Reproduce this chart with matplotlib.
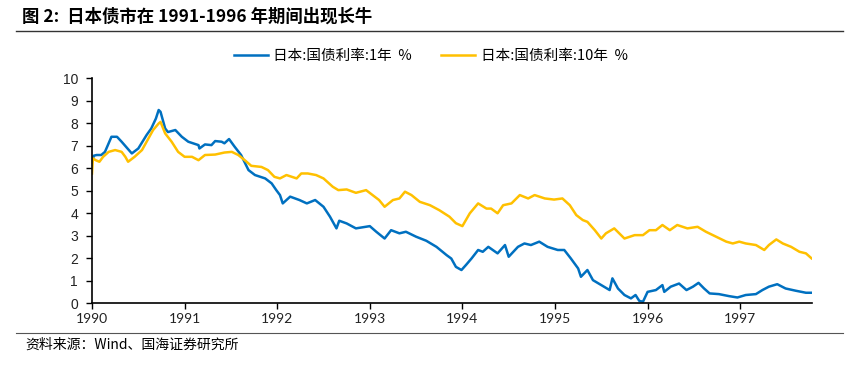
import matplotlib.pyplot as plt
from matplotlib.lines import Line2D

plt.rcParams['font.family'] = ['Noto Sans CJK SC', 'DejaVu Sans']

# 日本:国债利率:1年 (decimal year, %)
one_year_t = [1990.00, 1990.02, 1990.05, 1990.10, 1990.14, 1990.21, 1990.27, 1990.32, 1990.43, 1990.50,
              1990.59, 1990.64, 1990.69, 1990.72, 1990.74, 1990.79, 1990.82, 1990.90, 1990.97, 1991.04,
              1991.15, 1991.16, 1991.22, 1991.29, 1991.33, 1991.40, 1991.43, 1991.48, 1991.54, 1991.61,
              1991.69, 1991.76, 1991.87, 1991.94, 1991.99, 1992.03, 1992.06, 1992.14, 1992.24, 1992.32,
              1992.41, 1992.50, 1992.57, 1992.64, 1992.67, 1992.75, 1992.85, 1993.00, 1993.07, 1993.16,
              1993.23, 1993.32, 1993.39, 1993.50, 1993.61, 1993.72, 1993.83, 1993.88, 1993.93, 1993.99,
              1994.04, 1994.10, 1994.17, 1994.22, 1994.28, 1994.38, 1994.46, 1994.50, 1994.60, 1994.67,
              1994.74, 1994.83, 1994.92, 1995.03, 1995.10, 1995.17, 1995.25, 1995.28, 1995.35, 1995.41,
              1995.50, 1995.59, 1995.62, 1995.68, 1995.75, 1995.82, 1995.87, 1995.91, 1995.95, 1996.00,
              1996.09, 1996.16, 1996.18, 1996.25, 1996.34, 1996.42, 1996.49, 1996.55, 1996.61, 1996.67,
              1996.77, 1996.88, 1996.97, 1997.06, 1997.17, 1997.24, 1997.31, 1997.40, 1997.49, 1997.60,
              1997.71, 1997.77]
one_year = [6.28, 6.55, 6.58, 6.58, 6.72, 7.39, 7.39, 7.17, 6.65, 6.87,
            7.47, 7.76, 8.20, 8.58, 8.50, 7.76, 7.60, 7.69, 7.39, 7.17,
            7.02, 6.87, 7.05, 7.02, 7.20, 7.17, 7.10, 7.29, 6.95, 6.58,
            5.91, 5.69, 5.54, 5.32, 5.02, 4.80, 4.43, 4.73, 4.58, 4.43,
            4.58, 4.28, 3.84, 3.32, 3.66, 3.54, 3.32, 3.42, 3.17, 2.87,
            3.24, 3.10, 3.17, 2.95, 2.77, 2.50, 2.13, 1.98, 1.61, 1.47,
            1.70, 1.99, 2.36, 2.28, 2.50, 2.21, 2.58, 2.06, 2.50, 2.65,
            2.58, 2.73, 2.50, 2.36, 2.36, 1.99, 1.54, 1.17, 1.47, 1.02,
            0.80, 0.58, 1.10, 0.65, 0.36, 0.21, 0.36, 0.10, 0.06, 0.50,
            0.58, 0.80, 0.50, 0.73, 0.87, 0.58, 0.73, 0.90, 0.65, 0.43,
            0.40, 0.31, 0.25, 0.36, 0.40, 0.58, 0.73, 0.84, 0.65, 0.55,
            0.46, 0.46]

# 日本:国债利率:10年 (decimal year, %)
ten_year_t = [1990.00, 1990.01, 1990.04, 1990.08, 1990.12, 1990.18, 1990.25, 1990.32, 1990.36, 1990.39,
              1990.46, 1990.54, 1990.61, 1990.66, 1990.72, 1990.74, 1990.79, 1990.86, 1990.93, 1991.00,
              1991.08, 1991.15, 1991.22, 1991.33, 1991.43, 1991.51, 1991.58, 1991.65, 1991.72, 1991.83,
              1991.90, 1991.97, 1992.03, 1992.10, 1992.21, 1992.26, 1992.33, 1992.42, 1992.50, 1992.60,
              1992.66, 1992.75, 1992.85, 1992.96, 1993.03, 1993.10, 1993.16, 1993.25, 1993.32, 1993.38,
              1993.45, 1993.54, 1993.65, 1993.75, 1993.86, 1993.93, 1994.00, 1994.08, 1994.17, 1994.26,
              1994.31, 1994.38, 1994.44, 1994.53, 1994.62, 1994.71, 1994.78, 1994.89, 1994.99, 1995.08,
              1995.16, 1995.23, 1995.30, 1995.35, 1995.43, 1995.50, 1995.55, 1995.64, 1995.75, 1995.86,
              1995.95, 1996.02, 1996.09, 1996.16, 1996.24, 1996.32, 1996.43, 1996.54, 1996.63, 1996.74,
              1996.85, 1996.92, 1996.99, 1997.06, 1997.17, 1997.26, 1997.31, 1997.39, 1997.46, 1997.55,
              1997.64, 1997.71, 1997.77]
ten_year = [5.76, 6.43, 6.35, 6.28, 6.50, 6.72, 6.80, 6.72, 6.50, 6.28,
            6.50, 6.80, 7.32, 7.69, 7.98, 8.05, 7.54, 7.17, 6.72, 6.50,
            6.50, 6.35, 6.58, 6.60, 6.69, 6.72, 6.58, 6.35, 6.10, 6.05,
            5.91, 5.61, 5.54, 5.69, 5.54, 5.76, 5.76, 5.69, 5.54, 5.17,
            5.02, 5.05, 4.90, 5.02, 4.80, 4.58, 4.28, 4.58, 4.65, 4.95,
            4.80, 4.50, 4.35, 4.13, 3.84, 3.55, 3.42, 3.99, 4.43, 4.20,
            4.20, 3.99, 4.35, 4.43, 4.80, 4.65, 4.80, 4.65, 4.60, 4.65,
            4.35, 3.91, 3.69, 3.61, 3.24, 2.87, 3.10, 3.32, 2.87, 3.02,
            3.02, 3.24, 3.24, 3.47, 3.24, 3.47, 3.32, 3.39, 3.17, 2.95,
            2.73, 2.65, 2.73, 2.65, 2.58, 2.36, 2.58, 2.83, 2.65, 2.50,
            2.28, 2.21, 1.99]

years = [1990, 1991, 1992, 1993, 1994, 1995, 1996, 1997]

fig = plt.figure(figsize=(8.55, 3.77), dpi=100)
ax = fig.add_axes([0.1076, 0.196, 0.8426, 0.597])

ax.plot(one_year_t, one_year, color='#0070C0', lw=1.8, label='日本:国债利率:1年  %')
ax.plot(ten_year_t, ten_year, color='#FFC000', lw=1.8, label='日本:国债利率:10年  %')

ax.set_xlim(1990, 1997.78)
ax.set_ylim(0, 10)
ax.set_yticks(range(0, 11))
ax.set_xticks(years)
ax.set_xticklabels([str(y) for y in years], family='Lato', fontsize=10)
for lab in ax.get_yticklabels():
    lab.set_family('Liberation Sans')
    lab.set_fontsize(10)
ax.spines['top'].set_visible(False)
ax.spines['right'].set_visible(False)
ax.spines['left'].set_linewidth(1.2)
ax.spines['bottom'].set_linewidth(1.2)
ax.tick_params(axis='both', length=4, width=1, colors='black', labelcolor='#222222')
ax.tick_params(axis='x', pad=3)
ax.tick_params(axis='y', pad=6)

fig.legend(loc='center', bbox_to_anchor=(0.504, 0.851), ncol=2, frameon=False,
           fontsize=10.5, handlelength=2.3, columnspacing=2.0, handletextpad=0.4)

# title and source
fig.text(0.026, 0.955, '图 2:  日本债市在 1991-1996 年期间出现长牛', fontsize=12.5,
         fontweight='bold', va='center', ha='left')
fig.add_artist(Line2D([0.019, 0.986], [0.918, 0.918], color='#333333', lw=1))
fig.add_artist(Line2D([0.019, 0.986], [0.117, 0.117], color='#555555', lw=0.8))
fig.text(0.03, 0.085, '资料来源：Wind、国海证券研究所', fontsize=10, va='center', ha='left')

fig.savefig('out.png', dpi=100)
